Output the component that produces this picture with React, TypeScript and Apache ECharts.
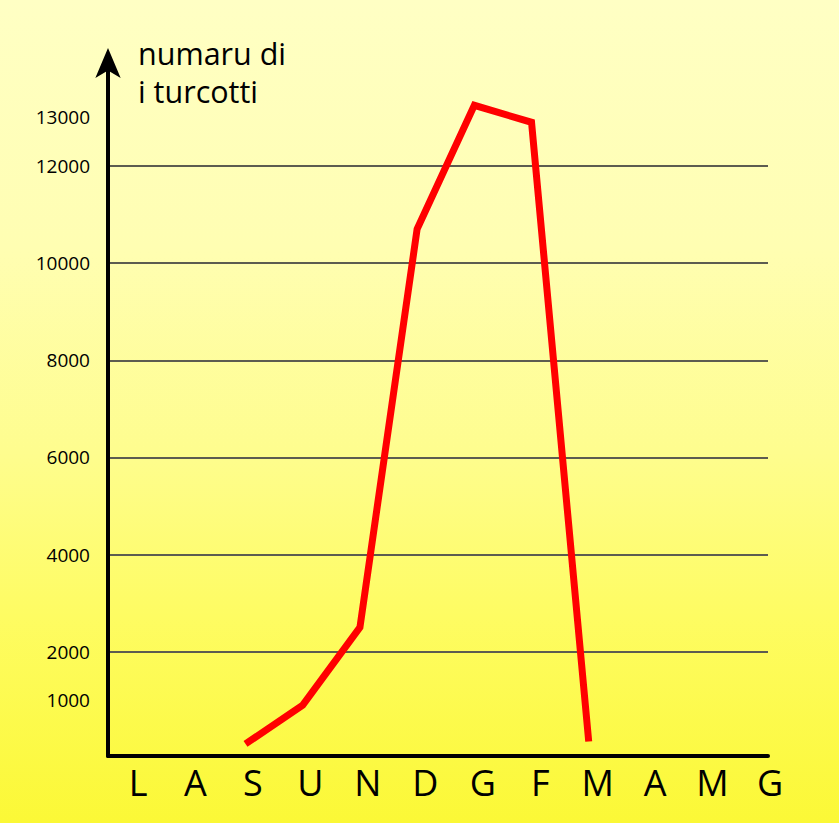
import React, { useEffect, useRef } from "react";
import * as echarts from "echarts";

// Months of the season, July to June (corsican initials)
const months = ["L", "A", "S", "U", "N", "D", "G", "F", "M", "A", "M", "G"];
// Number of thrushes counted each month (null = none recorded)
const counts: (number | null)[] = [null, null, 100, 900, 2500, 10700, 13250, 12900, 150, null, null, null];
// Values written along the vertical axis
const yLabelValues = [1000, 2000, 4000, 6000, 8000, 10000, 12000, 13000];
// Values that get a horizontal guide line
const gridValues = [2000, 4000, 6000, 8000, 10000, 12000];
const axisTitle = "numaru di\ni turcotti";

const FONT = "'Open Sans', 'Noto Sans', sans-serif";

export default function App() {
  const ref = useRef<HTMLDivElement>(null);

  useEffect(() => {
    document.body.style.margin = "0";
    if (!ref.current) return;
    const chart = echarts.init(ref.current, null, { renderer: "svg" });

    const points = counts
      .map((v, i) => (v === null ? null : [i, v]))
      .filter((p) => p !== null) as number[][];

    chart.setOption({
      animation: false,
      backgroundColor: "transparent",
      title: {
        text: axisTitle,
        left: 138,
        top: 34,
        padding: 0,
        textStyle: {
          fontFamily: FONT,
          fontSize: 30.5,
          fontWeight: "normal",
          color: "#000",
          lineHeight: 38,
        },
      },
      grid: [
        { left: 108, right: 71, top: 62, bottom: 67 },
        { left: 109.3, right: 40.3, top: 62, bottom: 67 },
      ],
      xAxis: [
        {
          type: "value",
          gridIndex: 0,
          min: -0.404,
          max: 11.134,
          axisLine: {
            show: true,
            onZero: false,
            lineStyle: { color: "#000", width: 4 },
          },
          axisTick: { show: false },
          axisLabel: { show: false },
          splitLine: { show: false },
        },
        {
          type: "category",
          gridIndex: 1,
          data: months,
          boundaryGap: true,
          axisLine: { show: false },
          axisTick: { show: false },
          splitLine: { show: false },
          axisLabel: {
            interval: 0,
            fontFamily: FONT,
            fontSize: 36,
            color: "#000",
            margin: 8,
          },
        },
      ],
      yAxis: [
        {
          type: "value",
          gridIndex: 0,
          min: -148,
          max: 14141,
          axisLine: {
            show: true,
            onZero: false,
            symbol: ["none", "arrow"],
            symbolSize: [19, 30],
            symbolOffset: [0, 14],
            lineStyle: { color: "#000", width: 4 },
          },
          axisTick: { show: false, customValues: gridValues },
          axisLabel: {
            customValues: yLabelValues,
            formatter: (v: number) => String(v),
            fontFamily: FONT,
            fontSize: 19,
            color: "#000",
            margin: 18,
            padding: [0, 0, 6, 0],
          },
          splitLine: {
            show: true,
            lineStyle: { color: "#5c5c50", width: 2 },
          },
        },
        {
          type: "value",
          gridIndex: 1,
          show: false,
          splitLine: { show: false },
        },
      ],
      series: [
        {
          type: "line",
          xAxisIndex: 0,
          yAxisIndex: 0,
          data: points,
          symbol: "none",
          showSymbol: false,
          z: 5,
          lineStyle: { color: "#ff0000", width: 7, cap: "butt", join: "miter" },
        },
      ],
    });

    return () => chart.dispose();
  }, []);

  return (
    <div
      ref={ref}
      style={{
        width: 839,
        height: 823,
        background:
          "linear-gradient(to bottom, #ffffc4 0%, #fffeb2 30%, #fefd8e 55%, #fefc62 75%, #fbf836 100%)",
      }}
    />
  );
}
